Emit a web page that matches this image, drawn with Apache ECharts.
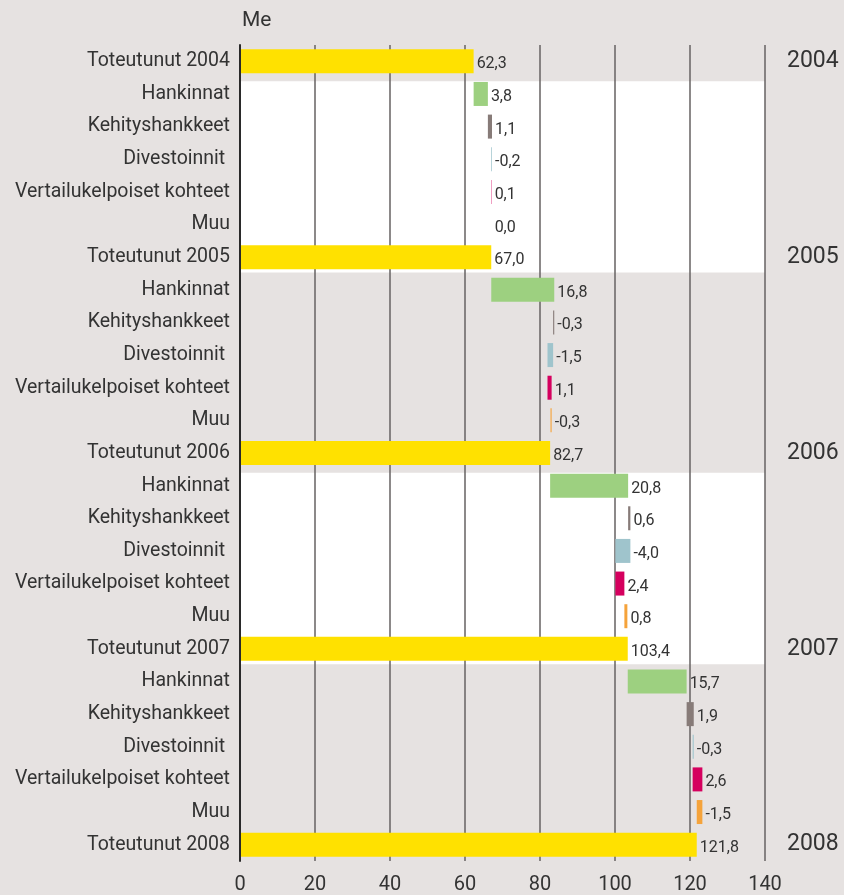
<!DOCTYPE html>
<html>
<head>
<meta charset="utf-8">
<script src="https://cdn.jsdelivr.net/npm/echarts@6/dist/echarts.min.js"></script>
<style>
html,body{margin:0;padding:0;background:#e6e2e1;}
#chart{width:844px;height:895px;}
</style>
</head>
<body>
<div id="chart"></div>
<script>
// ---- data ----
const years = ['2004', '2005', '2006', '2007', '2008'];
const totals = [62.3, 67.0, 82.7, 103.4, 121.8];
const changeNames = ['Hankinnat', 'Kehityshankkeet', 'Divestoinnit ', 'Vertailukelpoiset kohteet', 'Muu'];
const changes2005 = [3.8, 1.1, -0.2, 0.1, 0.0];
const changes2006 = [16.8, -0.3, -1.5, 1.1, -0.3];
const changes2007 = [20.8, 0.6, -4.0, 2.4, 0.8];
const changes2008 = [15.7, 1.9, -0.3, 2.6, -1.5];
const xTicks = [0, 20, 40, 60, 80, 100, 120, 140];

const changesByYear = [changes2005, changes2006, changes2007, changes2008];
const totalColor = '#ffe100';
const changeColors = ['#9dd080', '#877b78', '#9fc4cc', '#d5005e', '#f5a33b'];

// build rows
const rowKeys = [], rowLabels = [], rowYear = [], baseData = [], valData = [], bands = [];
years.forEach((y, i) => {
  rowKeys.push('r' + rowKeys.length);
  rowLabels.push('Toteutunut ' + y);
  rowYear.push(y);
  baseData.push(0);
  valData.push({ value: totals[i], raw: totals[i], itemStyle: { color: totalColor } });
  if (i < years.length - 1) {
    let run = totals[i];
    const ch = changesByYear[i];
    const startRow = rowKeys.length;
    ch.forEach((d, k) => {
      rowKeys.push('r' + rowKeys.length);
      rowLabels.push(changeNames[k]);
      rowYear.push('');
      const lo = Math.min(run, run + d);
      baseData.push(+lo.toFixed(2));
      valData.push({ value: +Math.abs(d).toFixed(2), raw: d, itemStyle: { color: changeColors[k] } });
      run += d;
    });
    // white band covers the changes and the next total, for every other year
    if (i % 2 === 0) bands.push([xTicks[0], startRow, startRow + ch.length, xTicks[xTicks.length - 1]]);
  }
});

const fmt = v => v.toFixed(1).replace('.', ',');
const FONT = 'Roboto';

const chart = echarts.init(document.getElementById('chart'));
chart.setOption({
  backgroundColor: '#e6e2e1',
  animation: false,
  textStyle: { fontFamily: FONT },
  title: {
    text: 'Me', left: 237, top: 5,
    textStyle: { fontFamily: FONT, fontSize: 21, fontWeight: 'normal', color: '#333' }
  },
  grid: { left: 240, right: 79, top: 45, bottom: 34, containLabel: false, outerBoundsMode: 'none' },
  xAxis: {
    type: 'value', min: 0, max: 140, interval: 20, z: 1,
    axisLine: { show: false }, axisTick: { show: false },
    axisLabel: { fontFamily: FONT, fontSize: 20, color: '#333', margin: 14 },
    splitLine: { show: true, lineStyle: { color: '#666262', width: 1.5 } }
  },
  yAxis: [{
    type: 'category', inverse: true, data: rowKeys, z: 3,
    axisLine: { show: true, lineStyle: { color: '#2a2a2a', width: 2 } },
    axisTick: { show: false },
    axisLabel: {
      fontFamily: FONT, fontSize: 19.5, color: '#333', margin: 10,
      formatter: (v, i) => rowLabels[i]
    }
  }, {
    type: 'category', inverse: true, data: rowKeys, position: 'right', z: 1,
    axisLine: { show: false }, axisTick: { show: false },
    axisLabel: {
      fontFamily: FONT, fontSize: 23, color: '#333', margin: 22,
      interval: 0, padding: [9, 0, 0, 0],
      formatter: (v, i) => rowYear[i]
    }
  }],
  series: [{
    type: 'custom', yAxisIndex: 0, z: 0, silent: true,
    data: bands,
    encode: { x: [0, 3], y: [1, 2] },
    renderItem: (params, api) => {
      const h = api.size([0, 1])[1];
      const p0 = api.coord([api.value(0), api.value(1)]);
      const p1 = api.coord([api.value(3), api.value(2)]);
      return {
        type: 'rect',
        shape: { x: p0[0], y: p0[1] - h / 2 + 3.5, width: p1[0] - p0[0], height: p1[1] - p0[1] + h - 4.5 },
        style: { fill: '#ffffff' }
      };
    }
  }, {
    type: 'bar', yAxisIndex: 0, stack: 'w', data: baseData, barWidth: 24, z: 2,
    itemStyle: { color: 'transparent' }, silent: true
  }, {
    type: 'bar', yAxisIndex: 0, stack: 'w', data: valData, barWidth: 24, z: 2,
    label: {
      show: true, position: 'right', distance: 3, offset: [0, 3],
      fontFamily: FONT, fontSize: 16, color: '#333',
      formatter: p => fmt(p.data.raw)
    }
  }]
});
</script>
</body>
</html>
